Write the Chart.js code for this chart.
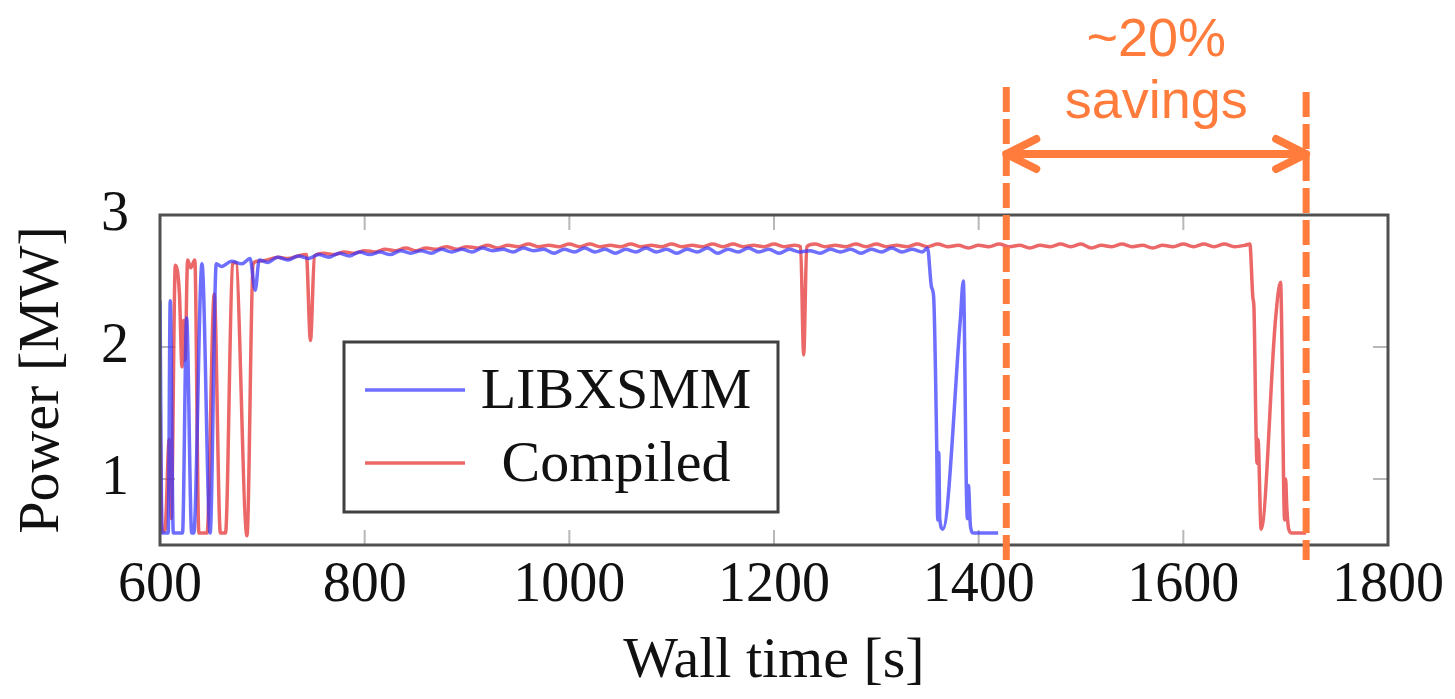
<!DOCTYPE html>
<html>
<head>
<meta charset="utf-8">
<script src="https://cdn.jsdelivr.net/npm/chart.js@4.4.0/dist/chart.umd.min.js"></script>
<style>
  body { margin: 0; background: #fff; }
  #wrap { width: 1455px; height: 699px; }
</style>
</head>
<body>
<div id="wrap"><canvas id="grafico"></canvas></div>
<script>
// ejes
const xTicks = [600, 800, 1000, 1200, 1400, 1600, 1800]
const yTicks = [1, 2, 3]

// LIBXSMM (tiempo [s] / potencia [MW])
const libxTime = [
  600, 602, 608, 610, 613, 622, 626, 631, 633, 641,
  649, 655, 660, 670, 680, 688, 693, 697, 705, 715,
  725, 735, 745, 755, 765, 775, 785, 795, 805, 815,
  825, 835, 845, 855, 865, 875, 885, 895, 905, 915,
  925, 935, 945, 955, 965, 975, 985, 995, 1005, 1015,
  1025, 1035, 1045, 1055, 1065, 1075, 1085, 1095, 1105, 1115,
  1125, 1135, 1145, 1155, 1165, 1175, 1185, 1195, 1205, 1215,
  1225, 1235, 1245, 1255, 1265, 1275, 1285, 1295, 1305, 1315,
  1325, 1335, 1345, 1350, 1354, 1356, 1359, 1360, 1361, 1362,
  1365, 1382, 1385, 1388, 1389, 1390, 1392, 1395, 1419
]
const libxPower = [
  2.35, 0.59, 0.59, 2.35, 0.59, 0.59, 2.22, 0.59, 0.59, 2.63,
  0.59, 2.63, 2.61, 2.65, 2.63, 2.67, 2.43, 2.66, 2.64, 2.68,
  2.66, 2.69, 2.67, 2.70, 2.68, 2.71, 2.69, 2.72, 2.70, 2.72,
  2.70, 2.73, 2.71, 2.73, 2.71, 2.74, 2.72, 2.74, 2.72, 2.75,
  2.73, 2.74, 2.72, 2.75, 2.73, 2.74, 2.71, 2.74, 2.72, 2.75,
  2.72, 2.74, 2.71, 2.74, 2.72, 2.75, 2.72, 2.74, 2.71, 2.74,
  2.72, 2.75, 2.71, 2.74, 2.72, 2.75, 2.72, 2.74, 2.71, 2.74,
  2.72, 2.73, 2.71, 2.74, 2.72, 2.74, 2.71, 2.74, 2.72, 2.75,
  2.72, 2.74, 2.72, 2.75, 2.45, 2.38, 1.25, 0.69, 1.20, 0.70,
  0.62, 2.20, 2.50, 0.92, 0.70, 0.95, 0.64, 0.59, 0.59
]

// Compiled
const compTime = [
  600, 602, 605, 609, 611, 615, 619, 621.5, 623, 624.5,
  627, 630, 634, 638, 646, 653, 659, 664, 671, 674,
  685, 691, 695, 705, 715, 725, 735, 743, 747, 751,
  760, 770, 780, 790, 800, 810, 820, 830, 840, 850,
  860, 870, 880, 890, 900, 910, 920, 930, 940, 950,
  960, 970, 980, 990, 1000, 1010, 1020, 1030, 1040, 1050,
  1060, 1070, 1080, 1090, 1100, 1110, 1120, 1130, 1140, 1150,
  1160, 1170, 1180, 1190, 1200, 1210, 1220, 1226, 1229, 1232,
  1240, 1250, 1260, 1270, 1280, 1290, 1300, 1310, 1320, 1330,
  1340, 1350, 1360, 1370, 1380, 1390, 1400, 1410, 1420, 1430,
  1440, 1450, 1460, 1470, 1480, 1490, 1500, 1510, 1520, 1530,
  1540, 1550, 1560, 1570, 1580, 1590, 1600, 1610, 1620, 1630,
  1640, 1650, 1660, 1665, 1668, 1669, 1671, 1672, 1673, 1676,
  1690, 1695, 1699, 1700, 1701, 1703, 1706, 1720
]
const compPower = [
  1.50, 0.60, 0.62, 1.30, 0.70, 2.62, 2.40, 1.85, 2.20, 1.90,
  2.66, 2.60, 2.66, 0.59, 0.59, 2.40, 0.59, 0.59, 2.63, 2.64,
  0.57, 2.63, 2.65, 2.66, 2.68, 2.67, 2.69, 2.70, 2.05, 2.69,
  2.71, 2.70, 2.72, 2.71, 2.73, 2.72, 2.74, 2.73, 2.75, 2.73,
  2.75, 2.74, 2.76, 2.74, 2.76, 2.75, 2.77, 2.75, 2.77, 2.76,
  2.78, 2.76, 2.77, 2.76, 2.78, 2.76, 2.78, 2.76, 2.77, 2.76,
  2.78, 2.76, 2.77, 2.76, 2.78, 2.76, 2.77, 2.76, 2.78, 2.76,
  2.78, 2.76, 2.77, 2.76, 2.78, 2.76, 2.77, 2.76, 1.94, 2.76,
  2.78, 2.76, 2.77, 2.76, 2.78, 2.76, 2.78, 2.76, 2.77, 2.76,
  2.78, 2.76, 2.78, 2.76, 2.77, 2.75, 2.77, 2.76, 2.78, 2.76,
  2.77, 2.75, 2.77, 2.76, 2.78, 2.76, 2.78, 2.75, 2.77, 2.76,
  2.78, 2.76, 2.77, 2.75, 2.77, 2.76, 2.78, 2.76, 2.78, 2.76,
  2.78, 2.76, 2.77, 2.78, 2.37, 2.30, 1.37, 1.12, 1.30, 0.62,
  2.20, 2.49, 0.69, 1.00, 0.80, 0.62, 0.59, 0.59
]

// anotacion naranja: fin de cada corrida
const markTimes = [1427, 1720]
const noteText = ['~20%', 'savings']

const serif = "'Liberation Serif', 'Times New Roman', serif"
const naranja = '#ff7c3c'

function toPoints(ts, vs) {
  return ts.map((t, i) => ({ x: t, y: vs[i] }))
}

const decoracion = {
  id: 'decoracion',
  beforeDatasetsDraw(chart) {
    // marcas de ticks hacia adentro, estilo pgfplots
    const { ctx, chartArea: ca, scales: { x, y } } = chart
    ctx.save()
    ctx.strokeStyle = '#b8b8b8'
    ctx.lineWidth = 2
    ctx.beginPath()
    xTicks.slice(1, -1).forEach(v => {
      const px = x.getPixelForValue(v)
      ctx.moveTo(px, ca.top); ctx.lineTo(px, ca.top + 15)
      ctx.moveTo(px, ca.bottom); ctx.lineTo(px, ca.bottom - 15)
    })
    yTicks.slice(0, -1).forEach(v => {
      const py = y.getPixelForValue(v)
      ctx.moveTo(ca.left, py); ctx.lineTo(ca.left + 15, py)
      ctx.moveTo(ca.right, py); ctx.lineTo(ca.right - 15, py)
    })
    ctx.stroke()
    ctx.restore()
  },
  afterDatasetsDraw(chart) {
    const { ctx, chartArea: ca, scales: { x } } = chart
    ctx.save()
    // marco
    ctx.strokeStyle = '#505050'
    ctx.lineWidth = 3
    ctx.strokeRect(ca.left, ca.top, ca.right - ca.left, ca.bottom - ca.top)

    // leyenda dentro del grafico
    const lx = ca.left + 184, ly = ca.top + 127, lw = 434, lh = 170
    ctx.fillStyle = '#fff'
    ctx.fillRect(lx, ly, lw, lh)
    ctx.strokeStyle = '#404040'
    ctx.lineWidth = 3
    ctx.strokeRect(lx, ly, lw, lh)
    ctx.font = `58px ${serif}`
    ctx.textAlign = 'center'
    ctx.textBaseline = 'alphabetic'
    chart.data.datasets.forEach((ds, i) => {
      const cy = ly + 48 + i * 73
      ctx.strokeStyle = ds.borderColor
      ctx.lineWidth = 3.5
      ctx.beginPath()
      ctx.moveTo(lx + 21, cy); ctx.lineTo(lx + 121, cy)
      ctx.stroke()
      ctx.fillStyle = '#111'
      ctx.fillText(ds.label, lx + 272, cy + 18)
    })

    // lineas naranjas punteadas
    ctx.strokeStyle = naranja
    ctx.lineWidth = 7
    ctx.setLineDash([25, 7])
    const tops = [ca.top - 128, ca.top - 123]
    const px = markTimes.map(t => x.getPixelForValue(t))
    px.forEach((p, i) => {
      ctx.beginPath()
      ctx.moveTo(p, tops[i]); ctx.lineTo(p, ca.bottom + 15)
      ctx.stroke()
    })
    ctx.setLineDash([])

    // flecha doble
    const ay = ca.top - 61
    ctx.lineWidth = 8
    ctx.lineCap = 'round'
    ctx.lineJoin = 'round'
    ctx.beginPath()
    ctx.moveTo(px[0], ay); ctx.lineTo(px[1], ay)
    ctx.moveTo(px[0] + 30, ay - 15); ctx.lineTo(px[0], ay); ctx.lineTo(px[0] + 30, ay + 15)
    ctx.moveTo(px[1] - 30, ay - 15); ctx.lineTo(px[1], ay); ctx.lineTo(px[1] - 30, ay + 15)
    ctx.stroke()

    ctx.fillStyle = naranja
    ctx.font = "54px 'Liberation Sans', Arial, sans-serif"
    ctx.textAlign = 'center'
    const cx = (px[0] + px[1]) / 2
    ctx.fillText(noteText[0], cx, ca.top - 159)
    ctx.fillText(noteText[1], cx, ca.top - 97)
    ctx.restore()
  }
}

const canvas = document.getElementById('grafico')
const grafico = new Chart(canvas, {
  type: 'line',
  data: {
    datasets: [
      {
        label: 'LIBXSMM',
        data: toPoints(libxTime, libxPower),
        borderColor: 'rgba(55, 55, 255, 0.72)',
        borderWidth: 3.5,
        pointRadius: 0,
        cubicInterpolationMode: 'monotone'
      },
      {
        label: 'Compiled',
        data: toPoints(compTime, compPower),
        borderColor: 'rgba(228, 45, 45, 0.72)',
        borderWidth: 3.5,
        pointRadius: 0,
        cubicInterpolationMode: 'monotone'
      }
    ]
  },
  options: {
    responsive: true,
    maintainAspectRatio: false,
    animation: false,
    layout: { padding: { top: 215, right: 67, left: 0, bottom: 0 } },
    plugins: { legend: { display: false }, tooltip: { enabled: false } },
    scales: {
      x: {
        type: 'linear',
        min: 600,
        max: 1800,
        afterBuildTicks: s => { s.ticks = xTicks.map(v => ({ value: v })) },
        afterFit: s => { s.height = 154 },
        grid: { display: false },
        border: { display: false },
        ticks: { color: '#111', font: { family: serif, size: 56 }, padding: 0, maxRotation: 0, callback: v => String(v) },
        title: { display: true, text: 'Wall time [s]', color: '#111', font: { family: serif, size: 58 }, padding: { bottom: 2 } }
      },
      y: {
        min: 0.5,
        max: 3,
        afterBuildTicks: s => { s.ticks = yTicks.map(v => ({ value: v })) },
        afterFit: s => { s.width = 160 },
        grid: { display: false },
        border: { display: false },
        ticks: { color: '#111', font: { family: serif, size: 56 }, padding: 23, callback: v => String(v) },
        title: { display: true, text: 'Power [MW]', color: '#111', font: { family: serif, size: 58 }, padding: { top: 8 } }
      }
    }
  },
  plugins: [decoracion]
})
</script>
</body>
</html>
